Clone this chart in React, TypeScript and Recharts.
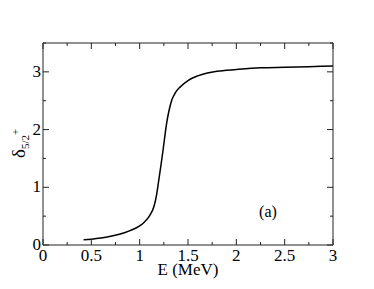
import React from 'react'
import { LineChart, Line, XAxis, YAxis } from 'recharts'

// phase shift delta_{5/2+} vs energy
const energy = [
  0.42, 0.5, 0.6, 0.7, 0.8, 0.9, 1.0, 1.05, 1.1, 1.15, 1.175, 1.2, 1.22, 1.24,
  1.26, 1.28, 1.3, 1.33, 1.37, 1.42, 1.5, 1.6, 1.7, 1.8, 2.0, 2.25, 2.5, 2.75, 3.0,
]
const delta = [
  0.09, 0.1, 0.12, 0.15, 0.19, 0.25, 0.33, 0.4, 0.5, 0.68, 0.87, 1.15, 1.38, 1.62,
  1.88, 2.12, 2.3, 2.5, 2.64, 2.74, 2.85, 2.93, 2.98, 3.01, 3.04, 3.07, 3.08, 3.09, 3.1,
]
const xTicks = [0, 0.25, 0.5, 0.75, 1, 1.25, 1.5, 1.75, 2, 2.25, 2.5, 2.75, 3]
const yTicks = [0, 0.5, 1, 1.5, 2, 2.5, 3, 3.5]

const data = energy.map((e, i) => ({ e, d: delta[i] }))

const FONT = 'Liberation Serif'
const INK = '#222'

const BottomTick = (props: any) => {
  const { x, y, payload } = props
  const v = payload.value
  const major = v % 0.5 === 0
  return (
    <g>
      <line x1={x} x2={x} y1={y} y2={y - (major ? 6 : 3)} stroke={INK} />
      {major && (
        <text x={x} y={y + 16} textAnchor="middle" fontFamily={FONT} fontSize={17} fill="#000">
          {String(v)}
        </text>
      )}
    </g>
  )
}

const TopTick = (props: any) => {
  const { x, y, payload } = props
  const major = payload.value % 0.5 === 0
  return <line x1={x} x2={x} y1={y} y2={y + (major ? 6 : 3)} stroke={INK} />
}

const LeftTick = (props: any) => {
  const { x, y, payload } = props
  const v = payload.value
  const major = v % 1 === 0
  return (
    <g>
      <line x1={x} x2={x + (major ? 6 : 3)} y1={y} y2={y} stroke={INK} />
      {major && (
        <text x={x - 2} y={y + 5} textAnchor="end" fontFamily={FONT} fontSize={17} fill="#000">
          {String(v)}
        </text>
      )}
    </g>
  )
}

const RightTick = (props: any) => {
  const { x, y, payload } = props
  const major = payload.value % 1 === 0
  return <line x1={x} x2={x - (major ? 6 : 3)} y1={y} y2={y} stroke={INK} />
}

// rotated delta with 5/2 subscript and + superscript
const YLabel = () => (
  <text transform="translate(25,158) rotate(-90)" fontFamily={FONT} fontSize={19} fill="#000">
    δ
    <tspan fontSize={11} dy={4}>5/2</tspan>
    <tspan fontSize={11} dy={-10}>+</tspan>
  </text>
)

const XLabel = () => (
  <text x={188} y={275} textAnchor="middle" fontFamily={FONT} fontSize={17} fill="#000">
    E (MeV)
  </text>
)

export default function App() {
  return (
    <div style={{ position: 'absolute', left: 0, top: 0, background: '#fff', fontFamily: FONT }}>
      <LineChart width={374} height={289} data={data} margin={{ top: 0, right: 0, bottom: 0, left: 0 }}>
        <XAxis
          dataKey="e"
          type="number"
          domain={[0, 3]}
          ticks={xTicks}
          interval={0}
          height={44}
          tickSize={0}
          tickMargin={0}
          tickLine={false}
          axisLine={{ stroke: INK }}
          tick={<BottomTick />}
          label={<XLabel />}
        />
        <XAxis
          xAxisId="top"
          dataKey="e"
          orientation="top"
          type="number"
          domain={[0, 3]}
          allowDataOverflow
          ticks={xTicks}
          interval={0}
          height={43}
          tickSize={0}
          tickMargin={0}
          tickLine={false}
          axisLine={{ stroke: INK }}
          tick={<TopTick />}
        />
        <YAxis
          type="number"
          domain={[0, 3.5]}
          ticks={yTicks}
          interval={0}
          width={43}
          tickSize={0}
          tickMargin={0}
          tickLine={false}
          axisLine={{ stroke: INK }}
          tick={<LeftTick />}
          label={<YLabel />}
        />
        <YAxis
          yAxisId="right"
          dataKey="d"
          orientation="right"
          type="number"
          domain={[0, 3.5]}
          allowDataOverflow
          ticks={yTicks}
          interval={0}
          width={41}
          tickSize={0}
          tickMargin={0}
          tickLine={false}
          axisLine={{ stroke: INK }}
          tick={<RightTick />}
        />
        <Line
          dataKey="d"
          type="monotone"
          stroke="#000"
          strokeWidth={1.5}
          dot={false}
          isAnimationActive={false}
        />
        <text x={268} y={217} textAnchor="middle" fontFamily={FONT} fontSize={16} fill="#000">
          (a)
        </text>
      </LineChart>
    </div>
  )
}
